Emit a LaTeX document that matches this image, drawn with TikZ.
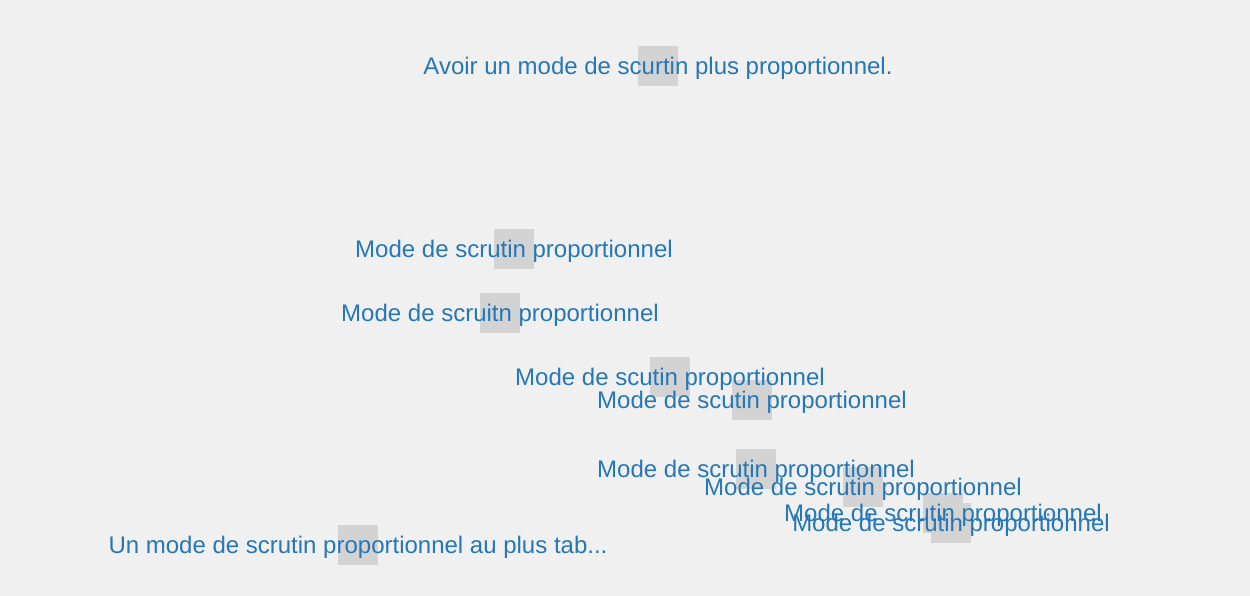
\documentclass[tikz,border=0pt]{standalone}
\usepackage{fontspec}
\setmainfont{Liberation Sans}
\definecolor{pagebg}{HTML}{F0F0F0}
\definecolor{boxgray}{HTML}{D3D3D3}
\definecolor{quoteblue}{HTML}{2677B5}
\tikzset{
	marker/.style={fill=boxgray, minimum size=40pt, inner sep=0pt, outer sep=0pt},
	quote/.style={text=quoteblue, font=\fontsize{24}{28}\selectfont, anchor=base, inner sep=0pt}
}
\begin{document}
\begin{tikzpicture}[x=1pt, y=-1pt]
		\fill[pagebg] (0, 0) rectangle (1250, 596);
		\useasboundingbox (0, 0) rectangle (1250, 596);
		\node[marker] (m1) at (658, 66) {};
		\node[marker] (m2) at (514, 249) {};
		\node[marker] (m3) at (500, 313) {};
		\node[marker] (m4) at (670, 377) {};
		\node[marker] (m5) at (752, 400) {};
		\node[marker] (m6) at (756, 469) {};
		\node[marker] (m7) at (863, 487) {};
		\node[marker] (m8) at (943, 513) {};
		\node[marker] (m9) at (951, 523) {};
		\node[marker] (m10) at (358, 545) {};
		\node[quote] (q1) at ([yshift=-8.5pt]m1.center) {Avoir un mode de scurtin plus proportionnel.};
		\node[quote] (q2) at ([yshift=-8.5pt]m2.center) {Mode de scrutin proportionnel};
		\node[quote] (q3) at ([yshift=-8.5pt]m3.center) {Mode de scruitn proportionnel};
		\node[quote] (q4) at ([yshift=-8.5pt]m4.center) {Mode de scutin proportionnel};
		\node[quote] (q5) at ([yshift=-8.5pt]m5.center) {Mode de scutin proportionnel};
		\node[quote] (q6) at ([yshift=-8.5pt]m6.center) {Mode de scrutin proportionnel};
		\node[quote] (q7) at ([yshift=-8.5pt]m7.center) {Mode de scrutin proportionnel};
		\node[quote] (q8) at ([yshift=-8.5pt]m8.center) {Mode de scrutin proportionnel};
		\node[quote] (q9) at ([yshift=-8.5pt]m9.center) {Mode de scrutin proportionnel};
		\node[quote] (q10) at ([yshift=-8.5pt]m10.center) {Un mode de scrutin proportionnel au plus tab...};
	\end{tikzpicture}
\end{document}
